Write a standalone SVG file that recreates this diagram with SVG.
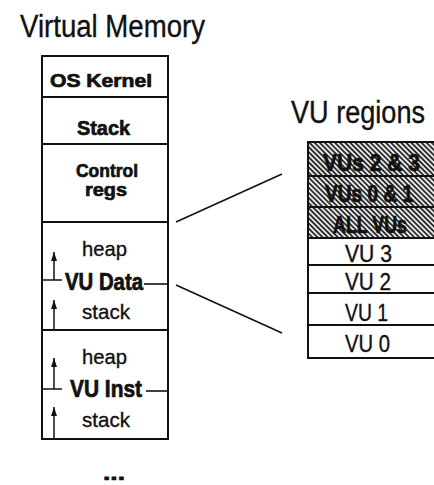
<svg xmlns="http://www.w3.org/2000/svg" width="434" height="485" viewBox="0 0 434 485">
<style>
.t{font-family:"Liberation Sans",Arial,sans-serif;fill:#111;stroke:#111;stroke-width:0.35}
.b{font-weight:bold;stroke-width:0.7}
.box{fill:#fff;stroke:#111;stroke-width:2}
.ln{stroke:#111;stroke-width:1.6;fill:none}
.ar{stroke:#111;stroke-width:1.5;fill:none}
</style>
<defs>
<pattern id="hatch" patternUnits="userSpaceOnUse" width="3.6" height="3.6" patternTransform="rotate(45)">
<rect width="3.6" height="3.6" fill="#e8e8e8"/>
<rect width="3.6" height="1.7" fill="#222"/>
</pattern>
<marker id="ah" viewBox="0 0 9 6" refX="9" refY="3" markerWidth="9" markerHeight="6" markerUnits="userSpaceOnUse" orient="auto">
<path d="M0,0 L9,3 L0,6 Z" fill="#111"/>
</marker>
</defs>

<g id="titles">
<text class="t" x="20" y="37" font-size="31" textLength="185" lengthAdjust="spacingAndGlyphs">Virtual Memory</text>
<text class="t" x="291" y="123" font-size="31" textLength="134" lengthAdjust="spacingAndGlyphs">VU regions</text>
</g>

<g id="vm-os-kernel">
<rect class="box" x="42" y="56" width="126" height="41"/>
<text class="t b" x="50" y="87" font-size="18" textLength="102" lengthAdjust="spacingAndGlyphs">OS Kernel</text>
</g>
<g id="vm-stack">
<rect class="box" x="42" y="97" width="126" height="47"/>
<text class="t b" x="77" y="135" font-size="21" textLength="53" lengthAdjust="spacingAndGlyphs">Stack</text>
</g>
<g id="vm-control-regs">
<rect class="box" x="42" y="144" width="126" height="78"/>
<text class="t b" x="76" y="177" font-size="19" textLength="62" lengthAdjust="spacingAndGlyphs">Control</text>
<text class="t b" x="85" y="196" font-size="19" textLength="42" lengthAdjust="spacingAndGlyphs">regs</text>
</g>
<g id="vm-vu-data">
<rect class="box" x="42" y="222" width="126" height="108"/>
<text class="t" x="82" y="256" font-size="21" textLength="45" lengthAdjust="spacingAndGlyphs">heap</text>
<text class="t b" x="65" y="290" font-size="23" textLength="78" lengthAdjust="spacingAndGlyphs">VU Data</text>
<text class="t" x="82" y="319" font-size="21" textLength="48" lengthAdjust="spacingAndGlyphs">stack</text>
<path class="ar" d="M42,280 H62"/>
<path class="ar" d="M54,280 V252" marker-end="url(#ah)"/>
<path class="ar" d="M54,330 V300" marker-end="url(#ah)"/>
<path class="ln" d="M144,284 H168"/>
</g>
<g id="vm-vu-inst">
<rect class="box" x="42" y="330" width="126" height="109"/>
<text class="t" x="82" y="364" font-size="21" textLength="45" lengthAdjust="spacingAndGlyphs">heap</text>
<text class="t b" x="70" y="397" font-size="23" textLength="72" lengthAdjust="spacingAndGlyphs">VU Inst</text>
<text class="t" x="82" y="427" font-size="21" textLength="48" lengthAdjust="spacingAndGlyphs">stack</text>
<path class="ar" d="M42,389 H62"/>
<path class="ar" d="M54,389 V358" marker-end="url(#ah)"/>
<path class="ar" d="M54,439 V407" marker-end="url(#ah)"/>
<path class="ln" d="M146,391 H168"/>
</g>
<g id="vm-more">
<text class="t b" x="103" y="480" font-size="20" textLength="22" lengthAdjust="spacingAndGlyphs">...</text>
</g>

<g id="vu-regions">
<g id="r-vus23">
<rect class="box" x="308" y="142" width="130" height="34" style="fill:url(#hatch)"/>
<text class="t b" x="323" y="171" font-size="23" textLength="97" lengthAdjust="spacingAndGlyphs">VUs 2 &amp; 3</text>
</g>
<g id="r-vus01">
<rect class="box" x="308" y="176" width="130" height="31" style="fill:url(#hatch)"/>
<text class="t b" x="325" y="202" font-size="23" textLength="88" lengthAdjust="spacingAndGlyphs">VUs 0 &amp; 1</text>
</g>
<g id="r-all">
<rect class="box" x="308" y="207" width="130" height="31" style="fill:url(#hatch)"/>
<text class="t b" x="333" y="233" font-size="23" textLength="74" lengthAdjust="spacingAndGlyphs">ALL VUs</text>
</g>
<g id="r-vu3">
<rect class="box" x="308" y="238" width="130" height="27"/>
<text class="t" x="345" y="262" font-size="23" textLength="47" lengthAdjust="spacingAndGlyphs">VU 3</text>
</g>
<g id="r-vu2">
<rect class="box" x="308" y="265" width="130" height="28"/>
<text class="t" x="345" y="290" font-size="23" textLength="46" lengthAdjust="spacingAndGlyphs">VU 2</text>
</g>
<g id="r-vu1">
<rect class="box" x="308" y="293" width="130" height="32"/>
<text class="t" x="345" y="321" font-size="23" textLength="43" lengthAdjust="spacingAndGlyphs">VU 1</text>
</g>
<g id="r-vu0">
<rect class="box" x="308" y="325" width="130" height="33"/>
<text class="t" x="345" y="352" font-size="23" textLength="45" lengthAdjust="spacingAndGlyphs">VU 0</text>
</g>
</g>

<g id="connectors">
<path class="ln" d="M176,222 L282,174"/>
<path class="ln" d="M176,285 L282,333"/>
</g>
</svg>
